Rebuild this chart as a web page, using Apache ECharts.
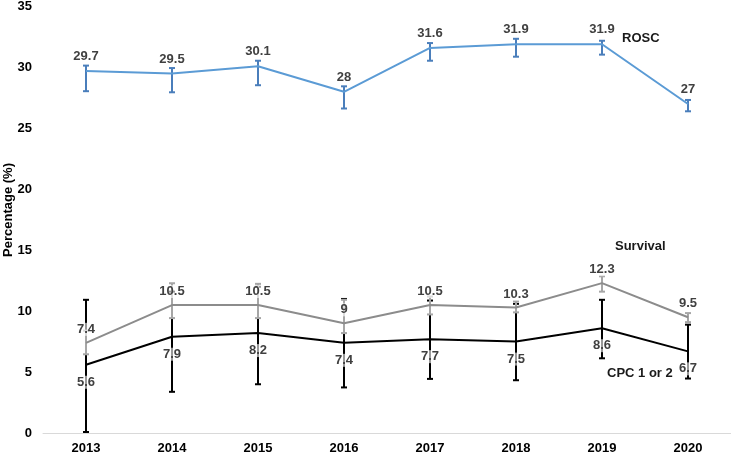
<!DOCTYPE html>
<html>
<head>
<meta charset="utf-8">
<script src="https://cdn.jsdelivr.net/npm/echarts@6/dist/echarts.min.js"></script>
<style>html,body{margin:0;padding:0;background:#fff;}#c{width:731px;height:455px;}</style>
</head>
<body>
<div id="c"></div>
<script>
var years = ['2013','2014','2015','2016','2017','2018','2019','2020'];
var rosc = [29.7, 29.5, 30.1, 28, 31.6, 31.9, 31.9, 27];
var roscLow = [28.05, 27.96, 28.54, 26.63, 30.55, 30.88, 31.05, 26.4];
var roscHigh = [30.15, 29.95, 30.55, 28.45, 32.0, 32.35, 32.19, 27.33];
var survival = [7.4, 10.5, 10.5, 9, 10.5, 10.3, 12.3, 9.5];
var survLow = [6.46, 9.43, 9.43, 8.2, 9.73, 9.9, 11.6, 9.1];
var survHigh = [8.4, 12.29, 12.24, 10.93, 11.2, 10.8, 12.86, 9.84];
var cpc = [5.6, 7.9, 8.2, 7.4, 7.7, 7.5, 8.6, 6.7];
var cpcLow = [0.08, 3.38, 4.0, 3.74, 4.44, 4.33, 6.13, 4.47];
var cpcHigh = [10.93, 11.6, 12.0, 11.0, 10.87, 10.6, 10.93, 8.89];
var yTicks = [0, 5, 10, 15, 20, 25, 30, 35];

function errData(lo, hi) {
  return years.map(function (y, i) { return [i, lo[i], hi[i]]; });
}
function errSeries(lo, hi, color, z) {
  return {
    type: 'custom',
    z: z,
    silent: true,
    data: errData(lo, hi),
    encode: { x: 0, y: [1, 2] },
    renderItem: function (params, api) {
      var x = api.value(0);
      var p1 = api.coord([x, api.value(1)]);
      var p2 = api.coord([x, api.value(2)]);
      var w = 3;
      var st = { stroke: color, lineWidth: 2 };
      return {
        type: 'group',
        children: [
          { type: 'line', shape: { x1: p1[0], y1: p1[1], x2: p2[0], y2: p2[1] }, style: st },
          { type: 'line', shape: { x1: p1[0] - w, y1: p1[1], x2: p1[0] + w, y2: p1[1] }, style: st },
          { type: 'line', shape: { x1: p2[0] - w, y1: p2[1], x2: p2[0] + w, y2: p2[1] }, style: st }
        ]
      };
    }
  };
}
function lineSeries(name, data, color, pos, dist, z, bg) {
  return {
    name: name,
    type: 'line',
    data: data,
    z: z,
    symbol: 'circle',
    symbolSize: 0,
    showSymbol: true,
    lineStyle: { color: color, width: 2 },
    itemStyle: { color: color },
    label: {
      show: true,
      position: pos,
      distance: dist,
      color: '#404040',
      fontFamily: 'Liberation Sans',
      fontWeight: 'bold',
      fontSize: 13,
      backgroundColor: bg || 'transparent'
    }
  };
}

var chart = echarts.init(document.getElementById('c'));
chart.setOption({
  animation: false,
  grid: { left: 43, right: 0, top: 5, bottom: 22 },
  xAxis: {
    type: 'category',
    data: years,
    boundaryGap: true,
    axisLine: { lineStyle: { color: '#d9d9d9', width: 1 } },
    axisTick: { show: false },
    axisLabel: { color: '#000', fontFamily: 'Liberation Sans', fontWeight: 'bold', fontSize: 13, margin: 9 }
  },
  yAxis: {
    type: 'value',
    min: 0,
    max: 35,
    interval: 5,
    splitLine: { show: false },
    axisLine: { show: false },
    axisTick: { show: false },
    axisLabel: {
      color: '#000', fontFamily: 'Liberation Sans', fontWeight: 'bold', fontSize: 13, margin: 11,
      formatter: function (v) { return yTicks.indexOf(v) >= 0 ? String(v) : ''; }
    }
  },
  graphic: [
    { type: 'text', x: 8, y: 210, rotation: Math.PI / 2, style: { text: 'Percentage (%)', fill: '#000', font: 'bold 13px "Liberation Sans"', align: 'center', verticalAlign: 'middle' } },
    { type: 'text', x: 622, y: 38, style: { text: 'ROSC', fill: '#1a1a1a', font: 'bold 13px "Liberation Sans"', verticalAlign: 'middle' } },
    { type: 'text', x: 615, y: 246, style: { text: 'Survival', fill: '#1a1a1a', font: 'bold 13px "Liberation Sans"', verticalAlign: 'middle' } },
    { type: 'text', x: 607, y: 373, style: { text: 'CPC 1 or 2', fill: '#1a1a1a', font: 'bold 13px "Liberation Sans"', verticalAlign: 'middle' } }
  ],
  series: [
    errSeries(cpcLow, cpcHigh, '#000000', 2),
    errSeries(survLow, survHigh, '#a6a6a6', 3),
    errSeries(roscLow, roscHigh, '#4a7ebb', 3),
    lineSeries('ROSC', rosc, '#5b9bd5', 'top', 8, 4),
    lineSeries('Survival', survival, '#8c8c8c', 'top', 7, 4, 'rgba(255,255,255,0.6)'),
    lineSeries('CPC 1 or 2', cpc, '#000000', 'bottom', 11, 4, 'rgba(255,255,255,0.6)')
  ]
});
</script>
</body>
</html>
